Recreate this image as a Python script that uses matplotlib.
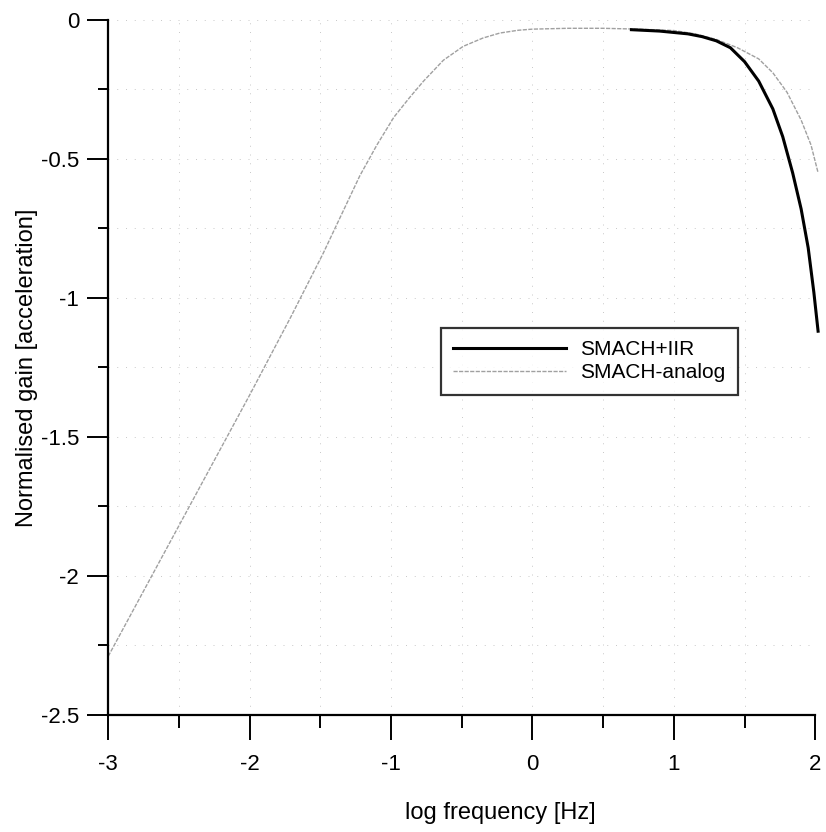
import numpy as np
import matplotlib.pyplot as plt
from matplotlib.ticker import MultipleLocator

plt.rcParams['font.family'] = ['Liberation Sans', 'DejaVu Sans']

# SMACH-analog response (log frequency, normalised gain)
analog_x = [-3.0, -2.5, -2.0, -1.71, -1.48, -1.35, -1.22, -1.1, -0.98, -0.87, -0.77, -0.63, -0.49,
            -0.35, -0.23, -0.1, 0.0, 0.25, 0.5, 0.75, 1.0, 1.15, 1.3, 1.45, 1.6, 1.7, 1.8, 1.9, 1.97, 2.02]
analog_y = [-2.29, -1.82, -1.35, -1.07, -0.84, -0.70, -0.56, -0.45, -0.35, -0.28, -0.22, -0.145, -0.095,
            -0.065, -0.047, -0.037, -0.033, -0.03, -0.03, -0.033, -0.038, -0.05, -0.07, -0.10, -0.14, -0.19, -0.26, -0.36, -0.45, -0.55]

# SMACH+IIR response (only visible where it departs from the analog curve)
iir_x = [0.7, 0.9, 1.1, 1.2, 1.3, 1.4, 1.5, 1.6, 1.7, 1.77, 1.84, 1.9, 1.95, 1.99, 2.02]
iir_y = [-0.035, -0.04, -0.05, -0.06, -0.075, -0.10, -0.15, -0.22, -0.32, -0.42, -0.55, -0.68, -0.82, -0.98, -1.12]

xticks = [-3, -2, -1, 0, 1, 2]
yticks = [0, -0.5, -1, -1.5, -2, -2.5]
ytick_labels = ['0', '-0.5', '-1', '-1.5', '-2', '-2.5']

fig = plt.figure(figsize=(8.26, 8.32), dpi=100)
ax = fig.add_axes([0.131, 0.141, 0.856, 0.835])

ax.plot(iir_x, iir_y, color='black', lw=2.2, label='SMACH+IIR', clip_on=False, zorder=3)
ax.plot(analog_x, analog_y, color='#a0a0a0', lw=1.0, linestyle=(0, (3, 1)),
        label='SMACH-analog', clip_on=False, zorder=2)

ax.set_xlim(-3, 2)
ax.set_ylim(-2.5, 0)
ax.set_xticks(xticks)
ax.set_xticklabels([str(v) for v in xticks])
ax.set_yticks(yticks)
ax.set_yticklabels(ytick_labels)
ax.xaxis.set_minor_locator(MultipleLocator(0.5))
ax.yaxis.set_minor_locator(MultipleLocator(0.25))

ax.grid(True, which='both', color='#c8c8c8', lw=0.7, linestyle=(0, (1, 8)))

for s in ['top', 'right']:
    ax.spines[s].set_visible(False)
for s in ['left', 'bottom']:
    ax.spines[s].set_linewidth(1.6)

ax.tick_params(axis='x', which='major', length=18, width=1.4, labelsize=16, pad=10)
ax.tick_params(axis='x', which='minor', length=9.5, width=1.4)
ax.tick_params(axis='y', which='major', length=15, width=1.4, labelsize=16, pad=6)
ax.tick_params(axis='y', which='minor', length=7, width=1.4)

ax.set_xlabel('log frequency [Hz]', fontsize=17)
ax.set_ylabel('Normalised gain [acceleration]', fontsize=17)
ax.xaxis.set_label_coords(0.554, -0.125)
ax.yaxis.set_label_coords(-0.100, 0.50)

leg = ax.legend(loc='upper left', bbox_to_anchor=(0.470, 0.557), fontsize=15, frameon=True,
                fancybox=False, edgecolor='black', handlelength=5.4, borderpad=0.6,
                labelspacing=0.2, handletextpad=0.72, borderaxespad=0)
leg.get_frame().set_linewidth(1.6)

fig.savefig('out.png', dpi=100)
